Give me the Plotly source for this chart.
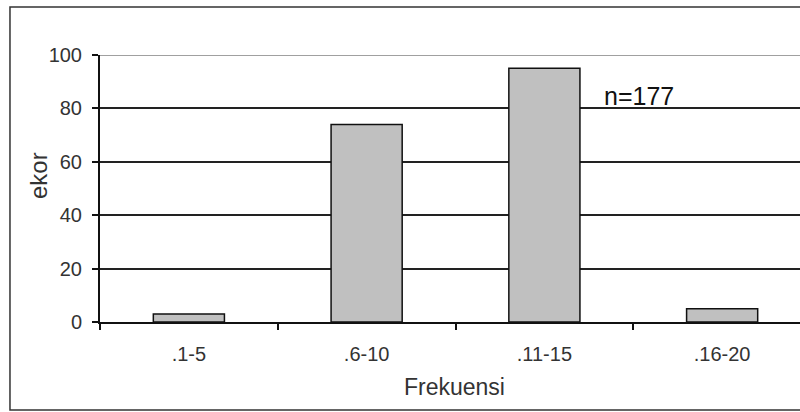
import plotly.graph_objects as go

categories = [".1-5", ".6-10", ".11-15", ".16-20"]
counts = [3, 74, 95, 5]
y_ticks = [0, 20, 40, 60, 80, 100]
x_title = "Frekuensi"
y_title = "ekor"
note = "n=177"

FONT = "Arial, 'Liberation Sans', sans-serif"

fig = go.Figure()
fig.add_trace(go.Bar(
    x=categories, y=counts,
    marker=dict(color="#c0c0c0", line=dict(color="#111111", width=1.5)),
    width=0.4, showlegend=False, hoverinfo="x+y",
))

fig.update_layout(
    width=800, height=412,
    margin=dict(l=100, r=0, t=55, b=90),
    paper_bgcolor="white", plot_bgcolor="white",
    font=dict(family=FONT, color="#333333"),
    xaxis=dict(
        type="category", range=[-0.5, 3.438],
        tickson="boundaries", ticks="outside", ticklen=6, tickwidth=2, tickcolor="#111111",
        showline=True, linecolor="#111111", linewidth=2,
        showgrid=False, zeroline=False,
        tickfont=dict(size=20, color="#333333", family=FONT),
        ticklabelstandoff=13,
    ),
    yaxis=dict(
        range=[0, 100], tickvals=y_ticks,
        ticks="outside", ticklen=6, tickwidth=2, tickcolor="#111111",
        showline=True, linecolor="#111111", linewidth=2,
        showgrid=True, gridcolor="#222222", gridwidth=1.5,
        zeroline=False,
        tickfont=dict(size=20, color="#333333", family=FONT),
        ticklabelstandoff=6,
    ),
    shapes=[
        # lighter top gridline
        dict(type="line", xref="paper", yref="y", x0=0, x1=1, y0=100, y1=100,
             line=dict(color="#a0a0a0", width=2), layer="above"),
        # outer chart frame
        dict(type="rect", xref="paper", yref="paper",
             x0=-0.1286, x1=1.02, y0=-0.3296, y1=1.1798,
             line=dict(color="#333333", width=1.5), fillcolor="rgba(0,0,0,0)"),
    ],
    annotations=[
        dict(text=y_title, xref="paper", yref="paper", x=-0.087, y=0.547,
             xanchor="center", yanchor="middle",
             textangle=-90, showarrow=False, font=dict(size=24, color="#333333", family=FONT)),
        dict(text=x_title, xref="paper", yref="paper", x=0.507, y=-0.243,
             xanchor="center", yanchor="middle",
             showarrow=False, font=dict(size=23, color="#333333", family=FONT)),
        dict(text=note, xref="x", yref="y", x=2.53, y=78.5, yanchor="bottom",
             xanchor="center",
             showarrow=False, font=dict(size=25, color="#111111", family=FONT)),
    ],
)

fig.write_html("out.html", config={"displayModeBar": False},
               post_script="document.body.style.margin='0';")
